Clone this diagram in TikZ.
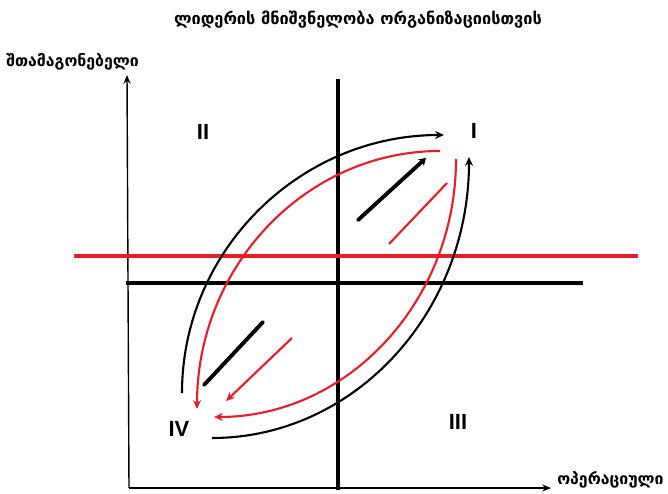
\documentclass[tikz,border=0pt]{standalone}
\usepackage{fontspec}
\setmainfont{DejaVu Sans}
\newfontfamily\numfont{Liberation Sans}
\usetikzlibrary{arrows.meta}
\definecolor{lineRed}{RGB}{237,28,36}

\begin{document}
\begin{tikzpicture}[
    x=0.02cm, y=-0.02cm,
    axis/.style={line width=0.8pt, -{Stealth[length=5pt,width=4pt]}},
    divider/.style={line width=2.3pt},
    loopblack/.style={line width=1.2pt},
    loopred/.style={line width=1.2pt, lineRed},
    tip/.style={-{Stealth[length=5pt,width=4.5pt]}},
    startip/.style={{Stealth[length=5pt,width=4.5pt]}-},
    quad/.style={font=\numfont\bfseries\fontsize{12.5}{12.5}\selectfont},
    caption/.style={font=\bfseries\fontsize{9}{9}\selectfont, inner sep=0pt}
  ]
  \useasboundingbox (0,0) rectangle (668,493);

  % texts
  \node[caption, font=\bfseries\fontsize{9.3}{9.3}\selectfont] (title) at (358,20) {ლიდერის მნიშვნელობა ორგანიზაციისთვის};
  \node[caption, anchor=west] (ylab) at (6,62) {შთამაგონებელი};
  \node[caption, anchor=west] (xlab) at (557,480) {ოპერაციული};

  % axes
  \coordinate (O) at (129,488);
  \coordinate (ytop) at (127,75);
  \coordinate (xend) at (551,488);
  \draw[axis] (O) -- (ytop);
  \draw[axis] (O) -- (xend);

  % dividing lines
  \coordinate (vtop) at (338,79);
  \coordinate (vbot) at (338,490);
  \draw[divider] (vtop) -- (vbot);
  \coordinate (hl) at (126,283);
  \coordinate (hr) at (583,283);
  \draw[divider] (hl) -- (hr);
  \coordinate (rl) at (74,256);
  \coordinate (rr) at (638,256);
  \draw[divider, lineRed] (rl) -- (rr);

  % quadrant numbers
  \node[quad] (q1) at (474,131) {I};
  \node[quad] (q2) at (203,132) {II};
  \node[quad] (q3) at (458,422) {III};
  \node[quad] (q4) at (179,429) {IV};

  % outer black loop
  \coordinate (b1s) at (182,393);
  \coordinate (b1e) at (444,135);
  \draw[loopblack, tip] (b1s) .. controls (182,251) and (299,135) .. (b1e);
  \coordinate (b2s) at (212,438);
  \coordinate (b2e) at (469,157);
  \draw[loopblack, tip] (b2s) .. controls (354,438) and (469,313) .. (b2e);

  % inner red loop
  \coordinate (r1s) at (197,409);
  \coordinate (r1e) at (440,151);
  \draw[loopred, startip] (r1s) .. controls (197,266) and (306,151) .. (r1e);
  \coordinate (r2s) at (456,159);
  \coordinate (r2e) at (214,417);
  \draw[loopred, tip] (r2s) .. controls (456,301) and (348,417) .. (r2e);

  % diagonal strokes
  \coordinate (d1s) at (358,220);
  \coordinate (d1e) at (426,158);
  \draw[line width=2.2pt, line cap=round, -{Stealth[length=4pt,width=5pt]}] (d1s) -- (d1e);
  \coordinate (d2s) at (263,322);
  \coordinate (d2e) at (204,385);
  \draw[line width=2.2pt, line cap=round] (d2s) -- (d2e);
  \coordinate (d3s) at (447,183);
  \coordinate (d3e) at (389,244);
  \draw[loopred] (d3s) -- (d3e);
  \coordinate (d4s) at (292,338);
  \coordinate (d4e) at (226,401);
  \draw[loopred, tip] (d4s) -- (d4e);
\end{tikzpicture}
\end{document}
